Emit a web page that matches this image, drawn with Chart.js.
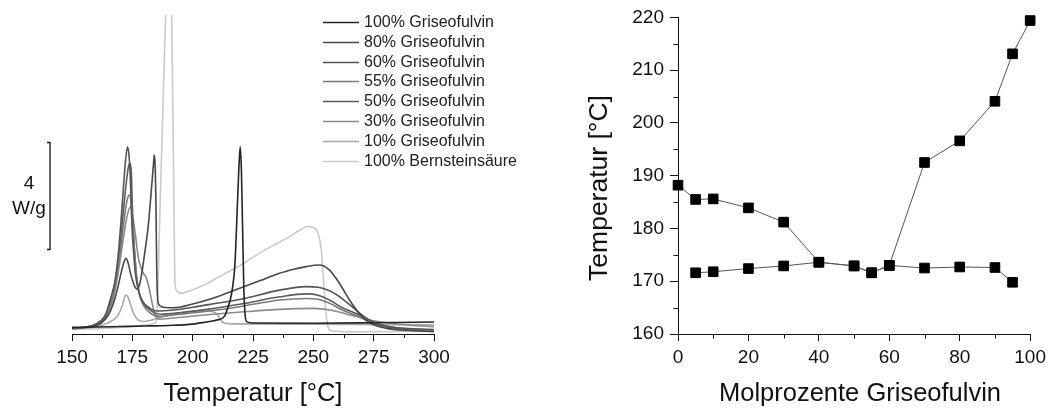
<!DOCTYPE html>
<html>
<head>
<meta charset="utf-8">
<script src="https://cdn.jsdelivr.net/npm/chart.js@4.4.1/dist/chart.umd.min.js"></script>
<style>
  html, body { margin: 0; padding: 0; background: #fff; }
  #wrap { position: relative; width: 1051px; height: 410px; overflow: hidden; background: #fff; }
  #dsc { position: absolute; left: 0; top: 0; }
  #phase { position: absolute; left: 560px; top: 0; }
</style>
</head>
<body>
<div id="wrap">
  <canvas id="dsc" width="560" height="410"></canvas>
  <canvas id="phase" width="491" height="410"></canvas>
</div>
<script>
// ---------- DSC heating curves: [temperature °C, heat flow W/g (offset)] ----------
const dsc100G = [[150,0.25],[160,0.26],[170,0.28],[180,0.3],[190,0.32],[200,0.37],[205.8,0.45],[210,0.52],[213.3,0.68],[215,1.1],[216.1,1.5],[217.5,2.6],[218.4,4.5],[219.1,6.1],[219.7,7.0],[220.2,6.1],[220.7,3.9],[221.2,1.7],[221.7,0.75],[222.4,0.46],[225,0.41],[250,0.4],[275,0.42],[300,0.45]];
const dsc80G = [[150,0.22],[158,0.28],[162,0.4],[165,0.7],[167,1.1],[169,1.75],[170.8,2.45],[172.3,2.83],[173.3,2.65],[174.3,2.25],[176,1.78],[177,1.68],[178,1.85],[178.9,2.27],[180.3,3.14],[181.7,4.14],[183.1,5.63],[183.8,6.4],[184.1,6.69],[184.5,6.2],[184.8,4.8],[185.1,2.5],[185.4,1.45],[186,1.1],[188,1.0],[192,0.98],[200,1.12],[206,1.27],[212,1.45],[219.5,1.71],[228,2.0],[236,2.27],[242,2.42],[247,2.52],[252.6,2.58],[256.7,2.39],[260.8,1.9],[265,1.27],[269,0.77],[273.3,0.42],[280,0.22],[290,0.13],[300,0.09]];
const dsc60G = [[150,0.22],[158,0.3],[162,0.5],[164,0.75],[165.8,1.27],[167.9,2.02],[169.3,3.1],[170.7,4.7],[172.1,6.4],[173,7.0],[173.6,6.7],[174.1,6.0],[174.8,4.1],[175.5,3.1],[176.2,2.3],[177.5,1.65],[178.5,1.35],[180.3,1.1],[182.5,0.95],[185,0.86],[192,0.9],[200,1.0],[210,1.15],[220,1.3],[236,1.64],[247,1.77],[252,1.75],[256.7,1.62],[260,1.45],[263.6,1.2],[269,0.8],[273.3,0.52],[280,0.3],[290,0.2],[300,0.17]];
const dsc55G = [[150,0.2],[158,0.28],[162,0.45],[164,0.68],[166,1.15],[168,1.9],[170,3.1],[171.5,4.2],[172.7,4.95],[173.7,5.2],[174.6,4.85],[175.3,3.9],[176.2,2.7],[177.3,1.8],[178.5,1.3],[180.5,0.95],[183,0.75],[186,0.66],[195,0.74],[206,0.85],[220,1.03],[236,1.27],[247,1.33],[252,1.3],[256.7,1.15],[262,0.9],[268,0.68],[273,0.48],[280,0.3],[290,0.18],[300,0.12]];
const dsc50G = [[150,0.21],[158,0.3],[162,0.48],[164,0.72],[166,1.2],[168,2.0],[170,3.4],[171.5,4.8],[172.8,5.9],[173.5,6.3],[174.1,6.38],[174.6,6.0],[175,4.76],[175.9,3.14],[176.9,2.0],[178,1.5],[178.9,1.27],[181,1.0],[184,0.8],[187,0.74],[195,0.8],[206,0.92],[220,1.12],[236,1.39],[247,1.5],[252,1.45],[256.7,1.27],[262,0.98],[269,0.71],[273,0.48],[280,0.27],[290,0.17],[300,0.13]];
const dsc30G = [[150,0.2],[158,0.28],[162,0.45],[164,0.62],[166,1.0],[168,1.7],[170,2.8],[171.5,3.7],[172.8,4.4],[174.2,4.76],[175.2,4.4],[176.2,3.76],[177.5,2.85],[178.5,2.5],[179.6,2.27],[180.8,2.1],[182,1.7],[183.1,1.2],[184.4,0.72],[186,0.55],[192,0.6],[206,0.72],[220,0.82],[236,0.92],[250,0.96],[257,0.9],[263.6,0.75],[270.5,0.59],[277.4,0.46],[290,0.33],[300,0.27]];
const dsc10G = [[150,0.19],[160,0.27],[165,0.42],[168.6,0.65],[170.7,1.02],[171.7,1.35],[172.3,1.46],[173.2,1.38],[174.1,1.15],[175.5,0.77],[177.5,0.52],[180,0.47],[185,0.58],[190,0.7],[198,0.82],[205,0.86],[208.5,0.83],[210.3,0.72],[211.6,0.52],[213,0.41],[216,0.38],[250,0.37],[300,0.34]];
const dsc100B = [[150,0.18],[165,0.22],[175,0.28],[182,0.35],[184.5,0.42],[185.1,0.6],[186.5,4.8],[188.8,11.9],[190.3,15.5],[191.3,11.9],[192.0,6.8],[192.7,1.9],[193.5,1.6],[194.8,1.52],[199,1.62],[205.8,1.88],[212.6,2.22],[220,2.58],[226.4,2.95],[232,3.25],[240.2,3.64],[245,3.92],[247.5,4.02],[250,3.98],[252,3.76],[253.3,3.14],[254.3,1.9],[255.1,0.9],[256,0.3],[257.4,0.12],[265,0.08],[300,0.1]];

const dscLabels = ['100% Griseofulvin','80% Griseofulvin','60% Griseofulvin','55% Griseofulvin','50% Griseofulvin','30% Griseofulvin','10% Griseofulvin','100% Bernsteinsäure'];
const dscCurves = [dsc100G, dsc80G, dsc60G, dsc55G, dsc50G, dsc30G, dsc10G, dsc100B];
const dscColors = ['#242424','#484848','#555555','#7a7a7a','#5b5b5b','#8a8a8a','#a8a8a8','#cacaca'];

// Scale bar for the heat flow (W/g)
const barBase = 3.18;
const barSize = 4;

// ---------- Phase diagram: mol-% griseofulvin vs. temperature ----------
const liqMol  = [0, 5, 10, 20, 30, 40, 50, 55, 60, 70, 80, 90, 95, 100];
const liqTemp = [188.2, 185.5, 185.6, 183.9, 181.2, 173.6, 172.9, 171.6, 173.0, 192.5, 196.6, 204.1, 213.1, 219.4];
const eutMol  = [5, 10, 20, 30, 40, 50, 55, 60, 70, 80, 90, 95];
const eutTemp = [171.6, 171.8, 172.4, 172.9, 173.6, 172.9, 171.6, 173.0, 172.5, 172.7, 172.6, 169.8];

// Minor tick positions
const dscMinorX   = [162.5, 187.5, 212.5, 237.5, 262.5, 287.5];
const phaseMinorX = [10, 30, 50, 70, 90];
const phaseMinorY = [165, 175, 185, 195, 205, 215];

const FONT = '"Liberation Sans", Arial, Helvetica, sans-serif';
const INK = '#111';
Chart.defaults.font.family = FONT;
Chart.defaults.color = INK;

// Short unlabeled ticks between the major ones
const minorTicks = {
  id: 'minorTicks',
  afterDraw(chart, args, o) {
    const ctx = chart.ctx;
    ctx.save();
    ctx.strokeStyle = INK;
    ctx.lineWidth = 1;
    const xs = chart.scales.x, ys = chart.scales.y;
    (o.x || []).forEach(v => {
      const px = Math.round(xs.getPixelForValue(v)) + 0.5;
      ctx.beginPath();
      ctx.moveTo(px, xs.top);
      ctx.lineTo(px, xs.top + o.len);
      ctx.stroke();
    });
    (o.y || []).forEach(v => {
      const py = Math.round(ys.getPixelForValue(v)) + 0.5;
      ctx.beginPath();
      ctx.moveTo(ys.right, py);
      ctx.lineTo(ys.right - o.len, py);
      ctx.stroke();
    });
    ctx.restore();
  }
};

// Axis titles placed freely around the plot
const axisTitles = {
  id: 'axisTitles',
  afterDraw(chart, args, o) {
    const ctx = chart.ctx;
    ctx.save();
    ctx.fillStyle = INK;
    ctx.textAlign = 'center';
    ctx.textBaseline = 'middle';
    (o.items || []).forEach(t => {
      ctx.save();
      ctx.font = t.size + 'px ' + FONT;
      ctx.translate(t.x, t.y);
      if (t.rotate) ctx.rotate(-Math.PI / 2);
      ctx.fillText(t.text, 0, 0);
      ctx.restore();
    });
    ctx.restore();
  }
};

// Vertical W/g scale bar
const scaleBar = {
  id: 'scaleBar',
  afterDraw(chart, args, o) {
    const ctx = chart.ctx, y = chart.scales.y;
    const top = Math.round(y.getPixelForValue(o.base + o.size)) + 0.5;
    const bot = Math.round(y.getPixelForValue(o.base)) + 0.5;
    ctx.save();
    ctx.strokeStyle = INK;
    ctx.lineWidth = 1.3;
    ctx.beginPath();
    ctx.moveTo(o.x - 3, top);
    ctx.lineTo(o.x, top);
    ctx.lineTo(o.x, bot);
    ctx.lineTo(o.x - 3, bot);
    ctx.stroke();
    ctx.fillStyle = INK;
    ctx.font = '19px ' + FONT;
    ctx.textAlign = 'center';
    ctx.textBaseline = 'middle';
    const mid = (top + bot) / 2;
    ctx.fillText(String(o.size), o.textX, mid - 12.5);
    ctx.fillText(o.unit, o.textX, mid + 12.5);
    ctx.restore();
  }
};

// Legend list in the upper right of the DSC plot
const dscLegend = {
  id: 'dscLegend',
  afterDraw(chart, args, o) {
    const ctx = chart.ctx;
    ctx.save();
    ctx.font = '16px ' + FONT;
    ctx.textAlign = 'left';
    ctx.textBaseline = 'middle';
    chart.data.datasets.forEach((ds, i) => {
      const y = Math.round(o.y + i * o.step) + 0.5;
      ctx.strokeStyle = ds.borderColor;
      ctx.lineWidth = 1.6;
      ctx.beginPath();
      ctx.moveTo(o.x, y);
      ctx.lineTo(o.x + o.len, y);
      ctx.stroke();
      ctx.fillStyle = '#222';
      ctx.fillText(ds.label, o.x + o.len + 5, y + 0.5);
    });
    ctx.restore();
  }
};

new Chart(document.getElementById('dsc'), {
  type: 'line',
  data: {
    datasets: dscCurves.map((pts, i) => ({
      label: dscLabels[i],
      data: pts.map(([x, y]) => ({ x, y })),
      borderColor: dscColors[i],
      borderWidth: 1.6,
      pointRadius: 0,
      fill: false,
      cubicInterpolationMode: 'monotone'
    }))
  },
  options: {
    responsive: false,
    animation: false,
    events: [],
    layout: { padding: { left: 72, right: 126, top: 15, bottom: 0 } },
    plugins: {
      legend: { display: false },
      tooltip: { enabled: false },
      minorTicks: { x: dscMinorX, len: 4 },
      scaleBar: { base: barBase, size: barSize, unit: 'W/g', x: 50, textX: 29 },
      dscLegend: { x: 323, y: 21.7, step: 19.9, len: 36 }
    },
    scales: {
      x: {
        type: 'linear', min: 150, max: 300,
        ticks: { stepSize: 25, font: { size: 19 }, padding: 5, color: INK, maxRotation: 0, autoSkip: false },
        grid: { drawOnChartArea: false, drawTicks: true, tickLength: 7, tickColor: INK, tickWidth: 1 },
        border: { display: true, color: INK, width: 1 },
        title: { display: true, text: 'Temperatur [°C]', font: { size: 25.5 }, color: INK, padding: { top: 0, bottom: 1 } },
        afterFit(scale) { scale.height = 76; }
      },
      y: { type: 'linear', min: 0, max: 11.93, display: false }
    }
  },
  plugins: [minorTicks, scaleBar, dscLegend]
});

new Chart(document.getElementById('phase'), {
  type: 'line',
  data: {
    datasets: [
      {
        label: 'Liquidus',
        data: liqMol.map((x, i) => ({ x, y: liqTemp[i] })),
        borderColor: '#555', borderWidth: 1,
        pointStyle: 'rect', pointRadius: 6.8,
        pointBackgroundColor: '#000', pointBorderColor: '#000', pointBorderWidth: 1,
        fill: false, tension: 0, clip: false
      },
      {
        label: 'Eutektikum',
        data: eutMol.map((x, i) => ({ x, y: eutTemp[i] })),
        borderColor: '#555', borderWidth: 1,
        pointStyle: 'rect', pointRadius: 6.8,
        pointBackgroundColor: '#000', pointBorderColor: '#000', pointBorderWidth: 1,
        fill: false, tension: 0, clip: false
      }
    ]
  },
  options: {
    responsive: false,
    animation: false,
    events: [],
    layout: { padding: { left: 0, right: 18, top: 16, bottom: 0 } },
    plugins: {
      legend: { display: false },
      tooltip: { enabled: false },
      minorTicks: { x: phaseMinorX, y: phaseMinorY, len: 4.5 },
      axisTitles: {
        items: [
          { text: 'Temperatur [°C]', x: 40, y: 188, size: 26.5, rotate: true },
          { text: 'Molprozente Griseofulvin', x: 300, y: 394, size: 25.5, rotate: false }
        ]
      }
    },
    scales: {
      x: {
        type: 'linear', min: 0, max: 100,
        ticks: { stepSize: 20, font: { size: 19 }, padding: 5, color: INK, maxRotation: 0, autoSkip: false },
        grid: { drawOnChartArea: false, drawTicks: true, tickLength: 7, tickColor: INK, tickWidth: 1 },
        border: { display: true, color: INK, width: 1 },
        afterFit(scale) { scale.height = 76; }
      },
      y: {
        type: 'linear', min: 160, max: 220,
        ticks: { stepSize: 10, font: { size: 19 }, padding: 6, color: INK, autoSkip: false },
        grid: { drawOnChartArea: false, drawTicks: true, tickLength: 8, tickColor: INK, tickWidth: 1 },
        border: { display: true, color: INK, width: 1 },
        afterFit(scale) { scale.width = 118; }
      }
    }
  },
  plugins: [minorTicks, axisTitles]
});
</script>
</body>
</html>
